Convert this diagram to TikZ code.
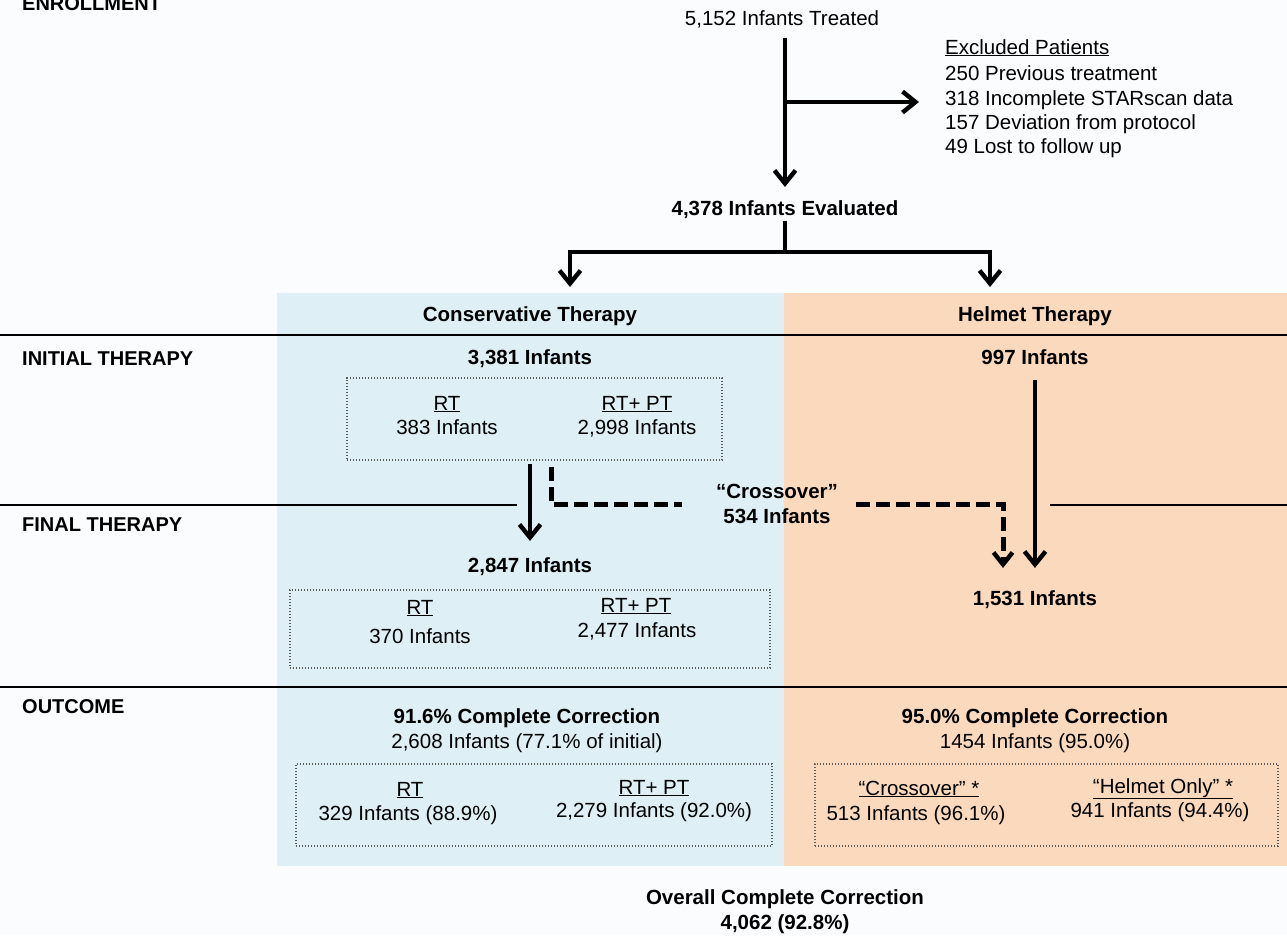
\documentclass[tikz,border=0pt]{standalone}
\usepackage{fontspec}
\setmainfont{Liberation Sans}
\usetikzlibrary{arrows.meta}
\definecolor{bgc}{RGB}{251,252,254}
\definecolor{bluep}{RGB}{222,239,245}
\definecolor{orangep}{RGB}{251,217,189}
\definecolor{dotc}{RGB}{90,90,90}
\newcommand{\myfs}{\fontsize{20.5}{24.5}\selectfont}
\begin{document}
\begin{tikzpicture}[x=1pt,y=-1pt,
  reg/.style={inner sep=0pt, anchor=base, font=\myfs},
  bld/.style={inner sep=0pt, anchor=base, font=\myfs\bfseries},
  lbl/.style={inner sep=0pt, anchor=base west, font=\fontsize{20}{24}\selectfont\bfseries},
  reglft/.style={inner sep=0pt, anchor=base west, font=\myfs},
  thk/.style={line width=4.4pt},
  arr/.style={line width=4.4pt, -{Straight Barb[length=13pt,width=21pt,line width=4.4pt]}},
  dsh/.style={line width=5pt, dash pattern=on 14pt off 6pt},
  rule/.style={line width=1.5pt},
  dbox/.style={draw=dotc, line width=1.2pt, dash pattern=on 1.2pt off 1.8pt, inner sep=0pt},
]
\fill[bgc] (0,0) rectangle (1287,935);
\useasboundingbox (0,0) rectangle (1287,935);
% panels
\fill[bluep] (277,293) rectangle (784,866);
\fill[orangep] (784,293) rectangle (1287,866);
% rules
\draw[rule] (0,335) -- (1287,335);
\draw[rule] (0,505) -- (517,505);
\draw[rule] (1050,505) -- (1287,505);
\draw[rule] (0,687) -- (1287,687);
% section labels
\node[lbl] (lenr) at (22,10) {ENROLLMENT};
\node[lbl] (linit) at (22,365) {INITIAL THERAPY};
\node[lbl] (lfin) at (22,531) {FINAL THERAPY};
\node[lbl] (lout) at (22,713) {OUTCOME};
% enrollment
\node[reg] (t) at (782,25) {5,152 Infants Treated};
\node[reglft] (ex0) at (945,54) {\underline{Excluded Patients}};
\node[reglft] (ex1) at (945,80) {250 Previous treatment};
\node[reglft] (ex2) at (945,105) {318 Incomplete STARscan data};
\node[reglft] (ex3) at (945,129) {157 Deviation from protocol};
\node[reglft] (ex4) at (945,153) {49 Lost to follow up};
\node[bld] (ev) at (785,215) {4,378 Infants Evaluated};
\coordinate (j1) at (785,102);
\draw[arr, shorten <=10pt, shorten >=13pt] (t.south -| j1) -- (ev.north -| j1);
\draw[arr, shorten >=26pt] (j1) -- (j1 -| ex2.west);
% branch
\coordinate (j2) at (785,252);
\coordinate (bl) at (570,252);
\coordinate (br) at (990,252);
\coordinate (al) at (570,287);
\coordinate (ar) at (990,287);
\draw[thk, shorten <=3pt] (ev.south -| j2) -- (j2);
\draw[arr] (j2) -- (bl) -- (al);
\draw[arr] (j2) -- (br) -- (ar);
% headers
\node[bld] (ct) at (530,321) {Conservative Therapy};
\node[bld] (ht) at (1035,321) {Helmet Therapy};
% initial
\node[bld] (n3381) at (530,364) {3,381 Infants};
\node[bld] (n997) at (1035,364) {997 Infants};
\node[dbox, minimum width=375pt, minimum height=82pt] (b1) at (534.5,419) {};
\node[reg] (i1a) at (447,410) {\underline{RT}};
\node[reg] (i1b) at (447,434) {383 Infants};
\node[reg] (i2a) at (637,410) {\underline{RT+ PT}};
\node[reg] (i2b) at (637,434) {2,998 Infants};
% final
\node[bld] (n2847) at (530,572) {2,847 Infants};
\node[bld] (n1531) at (1035,605) {1,531 Infants};
\node[dbox, minimum width=480pt, minimum height=78pt] (b2) at (530,629) {};
\node[reg] (f1a) at (420,614) {\underline{RT}};
\node[reg] (f1b) at (420,643) {370 Infants};
\node[reg] (f2a) at (636,612) {\underline{RT+ PT}};
\node[reg] (f2b) at (637,637) {2,477 Infants};
\node[bld, anchor=center, align=center] (xo) at (777,504) {“Crossover”\\534 Infants};
\draw[arr, shorten <=3pt, shorten >=16pt] (b1.south -| n2847) -- (n2847.north);
\draw[arr, shorten <=16pt, shorten >=22pt] (n997.south) -- (n1531.north -| n997);
\coordinate (d0) at (551,467);
\coordinate (dt) at (1003,568);
\draw[dsh, shorten >=34pt] (d0) |- (xo.west);
\draw[dsh, -{Straight Barb[length=12pt,width=19pt,line width=4.4pt]}, shorten <=18pt] (xo.east) -| (dt);
% outcome
\node[bld] (o1) at (527,723) {91.6\% Complete Correction};
\node[reg] (o1b) at (527,748) {2,608 Infants (77.1\% of initial)};
\node[bld] (o2) at (1035,723) {95.0\% Complete Correction};
\node[reg] (o2b) at (1035,748) {1454 Infants (95.0\%)};
\node[dbox, minimum width=476pt, minimum height=82pt] (b3) at (534,805) {};
\node[dbox, minimum width=463pt, minimum height=82pt] (b4) at (1046.5,805) {};
\node[reg] (r1a) at (410,796) {\underline{RT}};
\node[reg] (r1b) at (408,820) {329 Infants (88.9\%)};
\node[reg] (r2a) at (654,794) {\underline{RT+ PT}};
\node[reg] (r2b) at (654,817) {2,279 Infants (92.0\%)};
\node[reg] (h1a) at (919,795) {\underline{“Crossover” *}};
\node[reg] (h1b) at (916,820) {513 Infants (96.1\%)};
\node[reg] (h2a) at (1163,793) {\underline{“Helmet Only” *}};
\node[reg] (h2b) at (1160,817) {941 Infants (94.4\%)};
% overall
\node[bld] (ov1) at (785,904) {Overall Complete Correction};
\node[bld] (ov2) at (785,929) {4,062 (92.8\%)};
\end{tikzpicture}
\end{document}
